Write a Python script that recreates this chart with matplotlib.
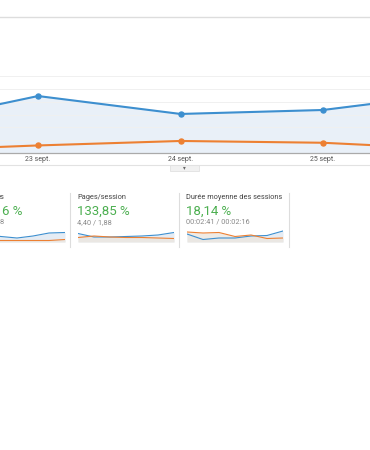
import matplotlib
matplotlib.use("Agg")
import matplotlib.pyplot as plt
from matplotlib.patches import Rectangle
from matplotlib.lines import Line2D

plt.rcParams["font.family"] = ["Roboto", "DejaVu Sans"]

W, H = 370, 450
BLUE, ORANGE, GREEN = "#3d8fcf", "#ed8032", "#4caf50"
FILL = "#e9f0f8"


def fx(px):
    return px / W


def fy(py):
    return 1 - py / H


# main chart (one point per day)
days = [22, 23, 24, 25, 26]
day_labels = ["23 sept.", "24 sept.", "25 sept."]
blue_vals = [2.1, 4.45, 3.05, 3.36, 4.75]
orange_vals = [0.16, 0.59, 0.94, 0.80, 0.26]

# sparkline tiles: (title, percent, detail, blue series, orange series)
tile_titles = ["es", "Pages/session", "Durée moyenne des sessions"]
tile_pcts = ["6 %", "133,85 %", "18,14 %"]
tile_details = ["8", "4,40 / 1,88", "00:02:41 / 00:02:16"]
spark_blue = [
    [8.0, 7.0, 5.5, 4.0, 6.0, 9.0, 9.5],
    [8.5, 5.0, 5.0, 5.5, 6.0, 7.0, 9.5],
    [8.0, 2.5, 4.0, 4.0, 6.0, 6.5, 11.0],
]
spark_orange = [
    [1.5, 1.5, 1.5, 1.5, 1.5, 1.5, 2.5],
    [4.5, 6.0, 5.0, 4.5, 4.5, 4.0, 3.5],
    [10.0, 9.0, 9.5, 5.5, 7.0, 3.5, 4.0],
]

fig = plt.figure(figsize=(W / 100, H / 100), dpi=100)
fig.patch.set_facecolor("white")

# ---- main line chart
ax = fig.add_axes([0, fy(153), 1, (153 - 17) / H])
ax.set_xlim(22.733, 25.33)
ax.set_ylim(0, 10.625)
ax.fill_between(days, blue_vals, 0, color=FILL, zorder=1)
ax.plot(days, blue_vals, color=BLUE, lw=1.5, marker="o", ms=3.6, zorder=3)
ax.plot(days, orange_vals, color=ORANGE, lw=1.5, marker="o", ms=3.6, zorder=3)
ax.set_yticks([1, 2, 3, 4, 5, 6])
ax.yaxis.grid(True, color="#f0f0f0", lw=0.7, zorder=0)
ax.set_yticklabels([])
ax.tick_params(axis="y", length=0)
ax.set_xticks([23, 24, 25])
ax.set_xticklabels(day_labels, fontsize=5, color="#555555")
ax.tick_params(axis="x", length=0, pad=2.5)
for s in ["left", "right"]:
    ax.spines[s].set_visible(False)
ax.spines["top"].set_color("#dddddd")
ax.spines["top"].set_linewidth(1.0)
ax.spines["bottom"].set_color("#aaaaaa")
ax.spines["bottom"].set_linewidth(0.9)

# bottom line + collapse button
fig.add_artist(Line2D([0, 1], [fy(165), fy(165)], color="#e2e2e2", lw=0.8))
fig.add_artist(Rectangle((fx(170), fy(171)), fx(29), 6 / H,
                         facecolor="#f1f1f1", edgecolor="#dddddd", lw=0.5))
fig.text(fx(184.5), fy(167.5), "▾", fontsize=4, color="#666666",
         ha="center", va="center", family="DejaVu Sans")

# ---- sparkline tiles
tile_x = [-38, 77, 186]
spark_x = [(-31, 65), (78, 174), (187, 283)]
for i in range(3):
    x0 = tile_x[i]
    if i == 0:
        fig.text(fx(4.5), fy(197), tile_titles[i], fontsize=5.3, color="#444444",
                 ha="right", va="center")
        fig.text(fx(22), fy(211.5), tile_pcts[i], fontsize=9.5, color=GREEN,
                 ha="right", va="center")
        fig.text(fx(3.3), fy(222.5), tile_details[i], fontsize=5.3, color="#888888",
                 ha="right", va="center")
    else:
        fig.text(fx(x0), fy(197), tile_titles[i], fontsize=5.3, color="#444444",
                 ha="left", va="center")
        fig.text(fx(x0), fy(211.5), tile_pcts[i], fontsize=9.5, color=GREEN,
                 ha="left", va="center")
        fig.text(fx(x0), fy(222.5), tile_details[i], fontsize=5.3, color="#888888",
                 ha="left", va="center")
    a, b = spark_x[i]
    sax = fig.add_axes([fx(a), fy(242), (b - a) / W, 13 / H])
    xs = list(range(len(spark_blue[i])))
    sax.fill_between(xs, spark_blue[i], 0, color="#dfe8f2", alpha=0.8, lw=0)
    sax.fill_between(xs, spark_orange[i], 0, color="#ece6df", alpha=0.8, lw=0)
    sax.plot(xs, spark_blue[i], color=BLUE, lw=0.8)
    sax.plot(xs, spark_orange[i], color=ORANGE, lw=0.8)
    sax.set_xlim(0, len(xs) - 1)
    sax.set_ylim(0, 13)
    sax.axis("off")

# tile separators
for sx in [70, 179, 289]:
    fig.add_artist(Line2D([fx(sx), fx(sx)], [fy(193), fy(247)], color="#dddddd", lw=0.8))

fig.savefig("out.png", dpi=100)
